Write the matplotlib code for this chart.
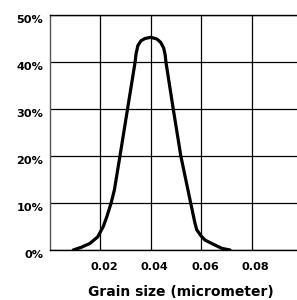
import matplotlib
matplotlib.use("Agg")
import matplotlib.pyplot as plt
import matplotlib.transforms as mtransforms
from matplotlib.ticker import FuncFormatter

# Data (grain size in micrometer, percent)
grain_size = [0.0094, 0.0127, 0.0160, 0.0191, 0.0213, 0.0227, 0.0244, 0.0257,
              0.0279, 0.0309, 0.0339, 0.0343, 0.0350, 0.0362, 0.0378, 0.0401,
              0.0425, 0.0440, 0.0452, 0.0458, 0.0461, 0.0490, 0.0520, 0.0559,
              0.0576, 0.0583, 0.0600, 0.0616, 0.0642, 0.0682, 0.0715]
percent = [0.0, 0.6, 1.4, 2.8, 5.0, 7.1, 10.0, 12.8,
           20.0, 30.0, 40.0, 41.8, 43.5, 44.5, 45.0, 45.25,
           44.9, 44.2, 43.0, 41.5, 40.0, 30.0, 20.0, 10.0,
           5.7, 4.3, 3.0, 2.1, 1.4, 0.35, 0.0]
x_ticks = [0.02, 0.04, 0.06, 0.08]
y_ticks = [0, 10, 20, 30, 40, 50]

plt.rcParams['font.family'] = ['DejaVu Sans']
plt.rcParams['font.weight'] = 'bold'

fig = plt.figure(figsize=(2.97, 3.0), dpi=100)
ax = fig.add_axes([49.5/297, 50/300, (297-49.5)/297, 235/300])

ax.plot(grain_size, percent, color='black', linewidth=2.3, solid_capstyle='round',
        solid_joinstyle='round', zorder=3)

ax.set_xlim(0, 0.098)
ax.set_ylim(0, 50)
ax.set_xticks(x_ticks)
ax.set_yticks(y_ticks)
ax.xaxis.set_major_formatter(FuncFormatter(lambda v, p: f"{v:.2f}"))
ax.yaxis.set_major_formatter(FuncFormatter(lambda v, p: f"{int(round(v))}%"))
ax.grid(True, color='black', linewidth=0.9)
ax.set_axisbelow(True)
ax.tick_params(length=0, labelsize=8.1)
ax.tick_params(axis='x', pad=9)
ax.tick_params(axis='y', pad=4.5)

shift_x = mtransforms.ScaledTranslation(4/100, 0, fig.dpi_scale_trans)
for lab in ax.get_xticklabels():
    lab.set_fontweight('bold')
    lab.set_transform(lab.get_transform() + shift_x)
for lab in ax.get_yticklabels():
    lab.set_fontweight('bold')
    lab.set_verticalalignment('top')

for s in ['left', 'bottom', 'top']:
    ax.spines[s].set_color('black')
    ax.spines[s].set_linewidth(1.0)
ax.spines['left'].set_color('#555555')
ax.spines['right'].set_visible(False)

ax.set_xlabel('Grain size (micrometer)', fontsize=10, fontweight='bold')
ax.xaxis.set_label_coords((180.5 - 49.5) / 247.5, -50 / 235 + 1/235, transform=ax.transAxes)
ax.xaxis.label.set_verticalalignment('bottom')

fig.savefig('out.png', dpi=100)
